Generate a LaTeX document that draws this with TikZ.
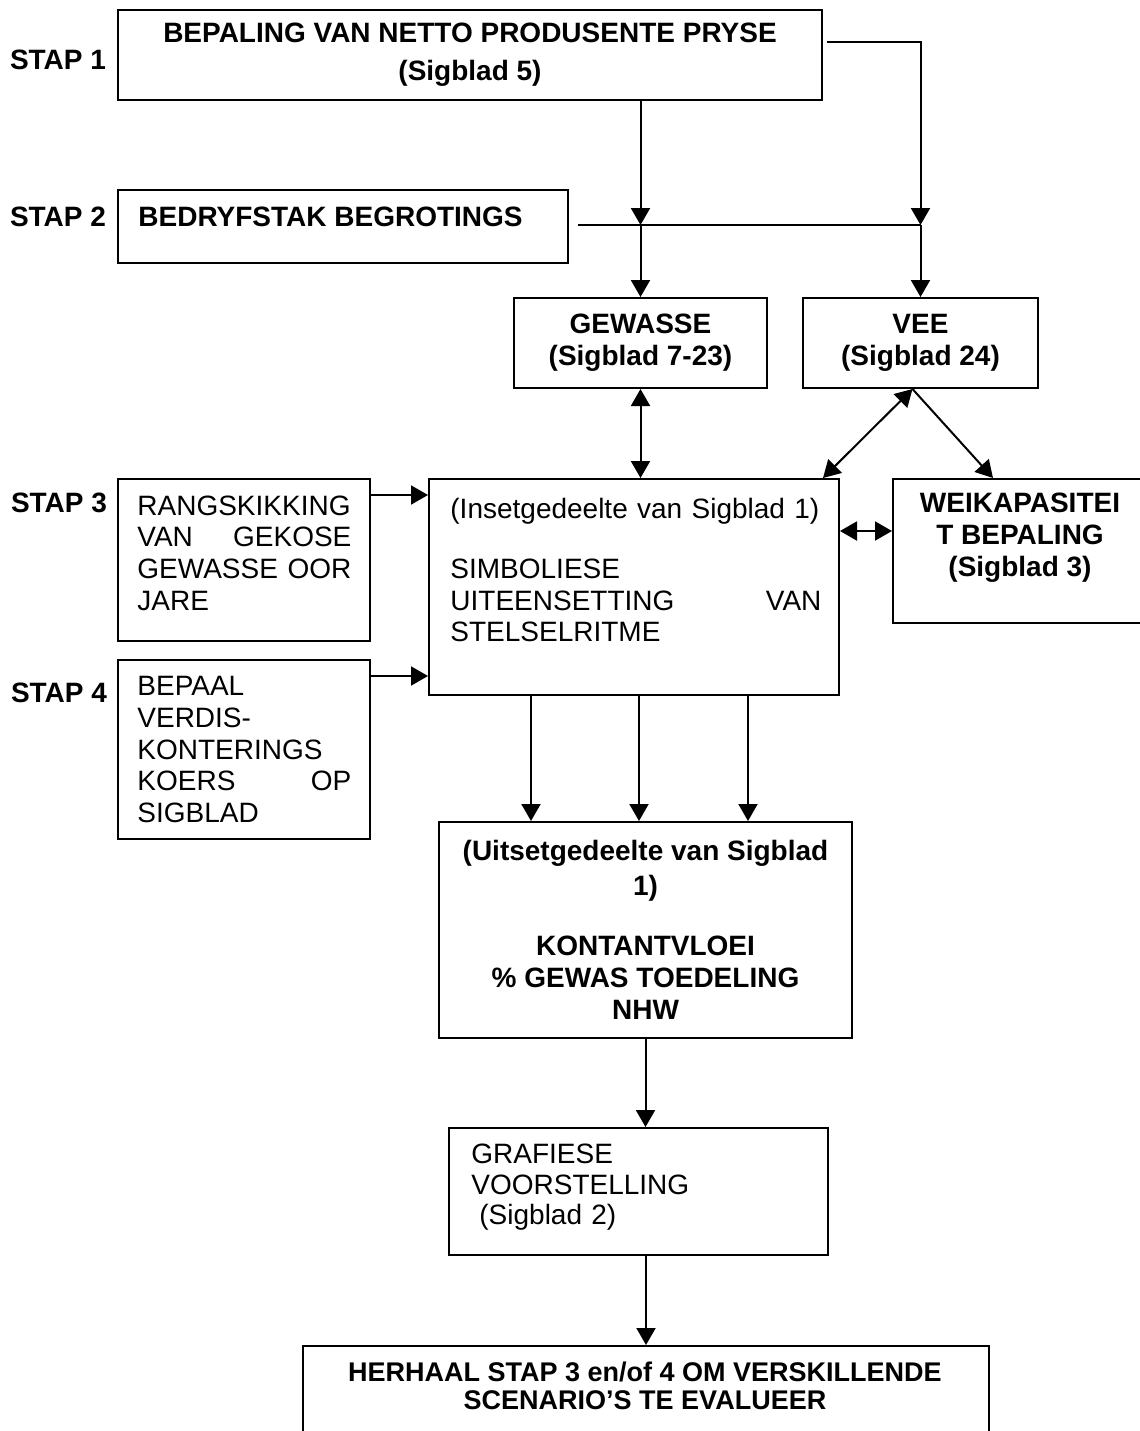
\documentclass[tikz,border=0pt]{standalone}
\usepackage{fontspec}
\setmainfont{Liberation Sans}
\usetikzlibrary{arrows.meta,calc}
\tikzset{
  box/.style={draw, line width=1pt, inner sep=0pt, anchor=north west},
  lbl/.style={font=\fontsize{14}{16}\selectfont\bfseries, inner sep=0pt},
  btxt/.style={font=\fontsize{14}{16}\selectfont\bfseries, align=center},
  rtxt/.style={font=\fontsize{14}{15.8}\selectfont, align=left, inner sep=0pt, anchor=west},
  ln/.style={line width=1pt},
  arr/.style={line width=1pt, -{Triangle[length=8.5pt,width=9.5pt]}},
  darr/.style={line width=1pt, {Triangle[length=8.5pt,width=9.5pt]}-{Triangle[length=8.5pt,width=9.5pt]}}
}
\begin{document}
\begin{tikzpicture}[x=0.5pt,y=-0.5pt]
\useasboundingbox (0,0) rectangle (1140,1431);
\fill[white] (0,0) rectangle (1140,1431);

% step labels
\node[lbl] (s1) at (58,60) {STAP 1};
\node[lbl] (s2) at (58,217) {STAP 2};
\node[lbl] (s3) at (59,503) {STAP 3};
\node[lbl] (s4) at (59,693) {STAP 4};

% boxes
\node[box, btxt, minimum width=352pt, minimum height=45pt] (b1) at (117,9)
  {BEPALING VAN NETTO PRODUSENTE PRYSE\\[3pt](Sigblad 5)};
\node[box, minimum width=225pt, minimum height=36.5pt] (b2) at (117,189) {};
\node[lbl, anchor=west] (b2t) at (138,217) {BEDRYFSTAK BEGROTINGS};

\node[box, btxt, minimum width=126.5pt, minimum height=45pt] (gew) at (513,297) {GEWASSE\\(Sigblad 7-23)};
\node[box, btxt, minimum width=117.5pt, minimum height=45pt] (vee) at (802,297) {VEE\\(Sigblad 24)};

\node[box, minimum width=126pt, minimum height=81pt] (rang) at (117,478) {};
\node[rtxt, text width=107pt] (rangt) at (137,553)
  {RANGSKIKKING\\VAN\hfill GEKOSE\\GEWASSE\hfill OOR\\JARE};

\node[box, minimum width=126pt, minimum height=89.5pt] (bep) at (117,659) {};
\node[rtxt, text width=107pt] (bept) at (137,749.5)
  {BEPAAL\\VERDIS-\\KONTERINGS\\KOERS\hfill OP\\SIGBLAD};

\node[box, minimum width=205pt, minimum height=108pt] (ins) at (428,478) {};
\node[rtxt, text width=185.5pt] (inst) at (450,570)
  {(Insetgedeelte van Sigblad 1)\\[14.5pt]SIMBOLIESE\\UITEENSETTING\hfill VAN\\STELSELRITME};

\node[box, minimum width=129pt, minimum height=72pt] (wei) at (892,478) {};
\node[btxt] (weit) at (1020,537.5) {WEIKAPASITEI\\T BEPALING\\(Sigblad 3)};

\node[box, btxt, minimum width=206.5pt, minimum height=108pt] (uit) at (438,821)
  {(Uitsetgedeelte van Sigblad\\[1.5pt]1)\\[14pt]KONTANTVLOEI\\\% GEWAS TOEDELING\\NHW};

\node[box, minimum width=189.5pt, minimum height=63.5pt] (gra) at (448,1127) {};
\node[rtxt, text width=150pt, font=\fontsize{14}{15.3}\selectfont] (grat) at (471,1187.5)
  {GRAFIESE\\VOORSTELLING\\\hspace*{4pt}(Sigblad 2)};

\node[box, minimum width=343pt, minimum height=60pt] (her) at (302,1345) {};
\node[btxt, font=\fontsize{13.5}{14}\selectfont\bfseries] (hert) at (645,1386)
  {HERHAAL STAP 3 en/of 4 OM VERSKILLENDE\\SCENARIO’S TE EVALUEER};

% connectors
\coordinate (hl) at (578,225);
\coordinate (tr) at ($(b1.north east)+(4,33)$);
\draw[arr] (tr) -| (vee.north |- hl);
\draw[ln] (hl) -- (vee.north |- hl);
\draw[arr] (gew.north |- b1.south) -- (gew.north |- hl);
\draw[arr] (gew.north |- hl) -- (gew.north);
\draw[arr] (vee.north |- hl) -- (vee.north);

\draw[darr] (gew.south) -- (gew.south |- ins.north);
\coordinate (vb) at ($(vee.south)+(-8,0)$);
\draw[darr] (vb) -- ($(ins.north east)+(-17,0)$);
\draw[arr] (vb) -- ($(wei.north west)+(101,0)$);

\coordinate (r3) at ($(rang.north east)+(0,17)$);
\draw[arr] (r3) -- (r3 -| ins.west);
\coordinate (r4) at ($(bep.north east)+(0,17)$);
\draw[arr] (r4) -- (r4 -| ins.west);
\coordinate (w3) at ($(ins.north east)+(0,53)$);
\draw[darr] (w3) -- (w3 -| wei.west);

\coordinate (xa) at (531,0);
\coordinate (xb) at (639,0);
\coordinate (xc) at (748,0);
\draw[arr] (ins.south -| xa) -- (uit.north -| xa);
\draw[arr] (ins.south -| xb) -- (uit.north -| xb);
\draw[arr] (ins.south -| xc) -- (uit.north -| xc);

\draw[arr] (uit.south) -- (uit.south |- gra.north);
\draw[arr] (her.north |- gra.south) -- (her.north);
\end{tikzpicture}
\end{document}
